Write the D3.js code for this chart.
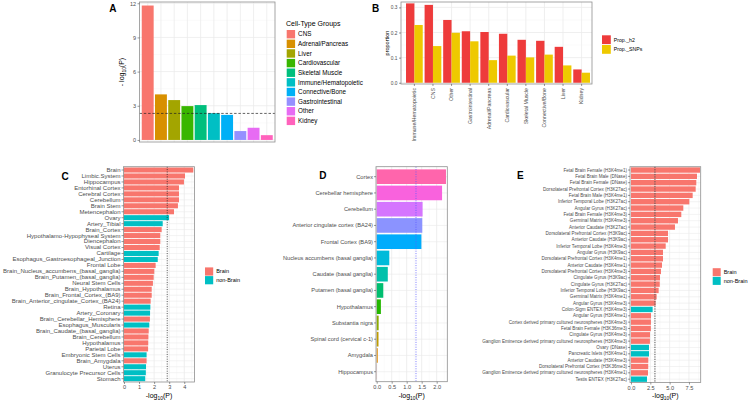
<!DOCTYPE html>
<html><head><meta charset="utf-8">
<script src="https://cdn.jsdelivr.net/npm/d3@7"></script>
<style>body{margin:0;background:#fff}svg{display:block;font-family:"Liberation Sans",Arial,sans-serif}</style>
</head><body><svg id="c" width="750" height="403"></svg>
<script>
// ---------- DATA ----------
const groupsA = ["CNS","Adrenal/Pancreas","Liver","Cardiovascular","Skeletal Muscle","Immune/Hematopoietic","Connective/Bone","Gastrointestinal","Other","Kidney"];
const valuesA = [11.8, 4.0, 3.5, 2.97, 3.06, 2.35, 2.2, 0.78, 1.07, 0.42];
const colorsA = ["#F8766D","#D89000","#A3A500","#39B600","#00BF7D","#00BFC4","#00B0F6","#9590FF","#E76BF3","#FF62BC"];
const ticksA = [0,3,6,9,12];
const thresholdA = 2.33;

const groupsB = ["Immune/Hematopoietic","CNS","Other","Gastrointestinal","Adrenal/Pancreas","Cardiovascular","Skeletal Muscle","Connective/Bone","Liver","Kidney"];
const seriesB = ["Prop._h2","Prop._SNPs"];
const propH2 = [0.316,0.310,0.250,0.205,0.202,0.195,0.171,0.167,0.143,0.053];
const propSNPs = [0.230,0.146,0.199,0.165,0.090,0.108,0.101,0.112,0.069,0.040];
const colorsB = ["#EE3B3B","#EEC900"];
const ticksB = [0,0.1,0.2,0.3];

const tissuesC = ["Brain","Limbic.System","Hippocampus","Entorhinal Cortex","Cerebral Cortex","Cerebellum","Brain Stem","Metencephalon","Ovary","Artery_Tibial","Brain_Cortex","Hypothalamo-Hypophyseal System","Diencephalon","Visual Cortex","Cartilage","Esophagus_Gastroesophageal_Junction","Frontal Lobe","Brain_Nucleus_accumbens_(basal_ganglia)","Brain_Putamen_(basal_ganglia)","Neural Stem Cells","Brain_Hypothalamus","Brain_Frontal_Cortex_(BA9)","Brain_Anterior_cingulate_Cortex_(BA24)","Retina","Artery_Coronary","Brain_Cerebellar_Hemisphere","Esophagus_Muscularis","Brain_Caudate_(basal_ganglia)","Brain_Cerebellum","Hypothalamus","Parietal Lobe","Embryonic Stem Cells","Brain_Amygdala","Uterus","Granulocyte Precursor Cells","Stomach"];
const valuesC = [4.6,4.05,3.98,3.65,3.65,3.65,3.58,3.32,2.99,2.57,2.50,2.41,2.41,2.37,2.30,2.24,2.10,2.01,1.97,1.92,1.84,1.84,1.77,1.75,1.73,1.72,1.68,1.64,1.62,1.61,1.60,1.50,1.50,1.46,1.45,1.41];
const typeC = ["Brain","Brain","Brain","Brain","Brain","Brain","Brain","Brain","non-Brain","non-Brain","Brain","Brain","Brain","Brain","non-Brain","non-Brain","Brain","Brain","Brain","Brain","Brain","Brain","Brain","non-Brain","non-Brain","Brain","non-Brain","Brain","Brain","Brain","Brain","non-Brain","Brain","non-Brain","non-Brain","non-Brain"];
const ticksC = [0,1,2,3,4];
const thresholdC = 2.87;

const tissuesD = ["Cortex","Cerebellar hemisphere","Cerebellum","Anterior cingulate cortex (BA24)","Frontal Cortex (BA9)","Nucleus accumbens (basal ganglia)","Caudate (basal ganglia)","Putamen (basal ganglia)","Hypothalamus","Substantia nigra","Spinal cord (cervical c-1)","Amygdala","Hippocampus"];
const valuesD = [2.31,2.18,1.53,1.52,1.49,0.42,0.37,0.22,0.14,0.065,0.06,0.035,0.005];
const colorsD = ["#FF65AC","#F962DD","#D575FE","#8B93FF","#00ACFC","#00BBDA","#00C1AB","#00BE70","#24B700","#8CAB00","#BE9C00","#E18A00","#F8766D"];
const ticksD = [0,0.5,1,1.5,2];
const thresholdD = 1.31;

const annotE = ["Fetal Brain Female (H3K4me1)","Fetal Brain Male (DNase)","Fetal Brain Female (DNase)","Dorsolateral Prefrontal Cortex (H3K27ac)","Fetal Brain Male (H3K4me1)","Inferior Temporal Lobe (H3K27ac)","Angular Gyrus (H3K27ac)","Fetal Brain Female (H3K4me3)","Germinal Matrix (H3K4me3)","Anterior Caudate (H3K27ac)","Dorsolateral Prefrontal Cortex (H3K9ac)","Anterior Caudate (H3K9ac)","Inferior Temporal Lobe (H3K4me3)","Angular Gyrus (H3K9ac)","Dorsolateral Prefrontal Cortex (H3K4me1)","Anterior Caudate (H3K4me1)","Dorsolateral Prefrontal Cortex (H3K4me3)","Cingulate Gyrus (H3K9ac)","Cingulate Gyrus (H3K27ac)","Inferior Temporal Lobe (H3K9ac)","Germinal Matrix (H3K4me1)","Angular Gyrus (H3K4me3)","Colon-Sigm ENTEX (H3K4me3)","Angular Gyrus (H3K4me1)","Cortex derived primary cultured neurospheres (H3K4me3)","Fetal Brain Female (H3K36me3)","Cingulate Gyrus (H3K4me3)","Ganglion Eminence derived primary cultured neurospheres (H3K4me3)","Ovary (DNase)","Pancreatic Islets (H3K4me1)","Anterior Caudate (H3K4me3)","Dorsolateral Prefrontal Cortex (H3K36me3)","Ganglion Eminence derived primary cultured neurospheres (H3K4me1)","Testis ENTEX (H3K27ac)"];
const valuesE = [8.93,8.54,8.45,8.37,7.98,7.55,6.77,6.51,6.08,5.69,4.79,4.79,4.49,4.14,4.14,4.01,3.88,3.75,3.72,3.58,3.32,3.19,2.80,2.59,2.58,2.57,2.46,2.45,2.33,2.33,2.24,2.23,2.20,2.07];
const typeE = ["Brain","Brain","Brain","Brain","Brain","Brain","Brain","Brain","Brain","Brain","Brain","Brain","Brain","Brain","Brain","Brain","Brain","Brain","Brain","Brain","Brain","Brain","non-Brain","Brain","Brain","Brain","Brain","Brain","non-Brain","non-Brain","Brain","Brain","Brain","non-Brain"];
const ticksE = [0,2.5,5,7.5];
const thresholdE = 3.1;

const typeColors = {"Brain":"#F8766D","non-Brain":"#00BFC4"};

// ---------- DRAW ----------
const FONT = '"Liberation Sans",Arial,sans-serif';
const svg = d3.select("#c");
const GRID = "#EBEBEB", MINOR = "#F4F4F4", BORDER = "#8f8f8f";

function styleAxis(g, fs){
  g.select(".domain").remove();
  g.selectAll("line").attr("stroke","#333").attr("stroke-width",0.5);
  g.selectAll("text").attr("fill","#4D4D4D").attr("font-size",fs).attr("font-family",FONT);
}
function panelLetter(t,x,y){
  svg.append("text").attr("x",x).attr("y",y).attr("font-size",10).attr("font-weight","bold").attr("font-family",FONT).attr("fill","#000").text(t);
}
function logLabel(x,y,fs,rot,prefix){
  const t = svg.append("text").attr("font-family",FONT).attr("font-size",fs).attr("fill","#000").attr("text-anchor","middle")
    .attr("transform",`translate(${x},${y})`+(rot?" rotate(-90)":""));
  t.append("tspan").text(prefix+"log");
  t.append("tspan").attr("font-size",fs*0.7).attr("dy",fs*0.3).text("10");
  t.append("tspan").attr("dy",-fs*0.3).text("(P)");
}
function legend(items, colors, x, y, step, ks, fs){
  items.forEach((d,i)=>{
    svg.append("rect").attr("x",x).attr("y",y+i*step-ks/2).attr("width",ks).attr("height",ks).attr("fill",colors[i]);
    svg.append("text").attr("x",x+ks+3).attr("y",y+i*step).attr("dy","0.35em").attr("font-size",fs).attr("font-family",FONT).attr("fill","#000").text(d);
  });
}

// ----- Panel A -----
(function(){
  const x0=139.5,x1=275,y0=2,y1=142;
  const x = d3.scaleBand().domain(groupsA).range([x0,x1]).paddingInner(0.1).paddingOuter(0.17);
  const y = d3.scaleLinear().domain([-0.18,12.11]).range([y1,y0]);
  const g = svg.append("g");
  [1.5,4.5,7.5,10.5].forEach(v=>g.append("line").attr("x1",x0).attr("x2",x1).attr("y1",y(v)).attr("y2",y(v)).attr("stroke",MINOR).attr("stroke-width",0.5));
  ticksA.forEach(v=>g.append("line").attr("x1",x0).attr("x2",x1).attr("y1",y(v)).attr("y2",y(v)).attr("stroke",GRID).attr("stroke-width",0.8));
  groupsA.forEach(c=>g.append("line").attr("x1",x(c)+x.bandwidth()/2).attr("x2",x(c)+x.bandwidth()/2).attr("y1",y0).attr("y2",y1).attr("stroke",GRID).attr("stroke-width",0.8));
  g.selectAll("rect.bar").data(groupsA).join("rect").attr("class","bar")
    .attr("x",d=>x(d)).attr("width",x.bandwidth())
    .attr("y",(d,i)=>y(valuesA[i])).attr("height",(d,i)=>y(0)-y(valuesA[i]))
    .attr("fill",(d,i)=>colorsA[i]);
  g.append("line").attr("x1",x0).attr("x2",x1).attr("y1",y(thresholdA)).attr("y2",y(thresholdA)).attr("stroke","#222").attr("stroke-width",0.7).attr("stroke-dasharray","2.5,1.8");
  g.append("rect").attr("x",x0).attr("y",y0).attr("width",x1-x0).attr("height",y1-y0).attr("fill","none").attr("stroke",BORDER).attr("stroke-width",0.8);
  const ay = svg.append("g").attr("transform",`translate(${x0},0)`).call(d3.axisLeft(y).tickValues(ticksA).tickSize(2).tickPadding(1.5));
  styleAxis(ay,5.5);
  logLabel(123.5,72,7,true,"- ");
  panelLetter("A",109.3,12);
  svg.append("text").attr("x",286).attr("y",26).attr("font-size",7).attr("font-family",FONT).attr("fill","#000").text("Cell-Type Groups");
  legend(groupsA, colorsA, 286.7, 34.2, 9.63, 8.4, 6.3);
})();

// ----- Panel B -----
(function(){
  const x0=401,x1=592,y0=2,y1=84;
  const x = d3.scaleBand().domain(groupsB).range([404.9,591.1]).paddingInner(0.1).paddingOuter(0.06);
  const xs = d3.scaleBand().domain(seriesB).range([0,x.bandwidth()]);
  const y = d3.scaleLinear().domain([-0.005,0.3215]).range([y1,y0]);
  const g = svg.append("g");
  [0.05,0.15,0.25].forEach(v=>g.append("line").attr("x1",x0).attr("x2",x1).attr("y1",y(v)).attr("y2",y(v)).attr("stroke",MINOR).attr("stroke-width",0.5));
  ticksB.forEach(v=>g.append("line").attr("x1",x0).attr("x2",x1).attr("y1",y(v)).attr("y2",y(v)).attr("stroke",GRID).attr("stroke-width",0.8));
  groupsB.forEach(c=>g.append("line").attr("x1",x(c)+x.bandwidth()/2).attr("x2",x(c)+x.bandwidth()/2).attr("y1",y0).attr("y2",y1).attr("stroke",GRID).attr("stroke-width",0.8));
  const vals = [propH2, propSNPs];
  seriesB.forEach((s,si)=>{
    g.selectAll("rect.b"+si).data(groupsB).join("rect").attr("class","b"+si)
      .attr("x",d=>x(d)+xs(s)).attr("width",xs.bandwidth())
      .attr("y",(d,i)=>y(vals[si][i])).attr("height",(d,i)=>y(0)-y(vals[si][i]))
      .attr("fill",colorsB[si]);
  });
  g.append("rect").attr("x",x0).attr("y",y0).attr("width",x1-x0).attr("height",y1-y0).attr("fill","none").attr("stroke",BORDER).attr("stroke-width",0.8);
  const ay = svg.append("g").attr("transform",`translate(${x0},0)`).call(d3.axisLeft(y).tickValues(ticksB).tickFormat(d3.format(".1f")).tickSize(2).tickPadding(1.5));
  styleAxis(ay,4.8);
  const ax = svg.append("g").attr("transform",`translate(0,${y1})`).call(d3.axisBottom(x).tickSize(2));
  styleAxis(ax,5.2);
  ax.selectAll("text").attr("transform","rotate(-90)").attr("text-anchor","end").attr("x",-4).attr("y",0).attr("dy","0.35em");
  svg.append("text").attr("transform","translate(388.5,43) rotate(-90)").attr("text-anchor","middle").attr("font-size",5.5).attr("font-family",FONT).attr("fill","#000").text("proportion");
  panelLetter("B",372,12);
  legend(seriesB, colorsB, 602, 39.7, 9.7, 8.8, 5.2);
})();

// ----- Horizontal bar panels -----
function hbar(o){
  const y = d3.scaleBand().domain(o.cats).range([o.y0,o.y1]).paddingInner(o.pi).paddingOuter(o.po);
  const x = d3.scaleLinear().domain(o.xd).range([o.x0,o.x1]);
  const g = svg.append("g");
  o.minor.forEach(v=>g.append("line").attr("x1",x(v)).attr("x2",x(v)).attr("y1",o.y0).attr("y2",o.y1).attr("stroke",MINOR).attr("stroke-width",0.5));
  o.ticks.forEach(v=>g.append("line").attr("x1",x(v)).attr("x2",x(v)).attr("y1",o.y0).attr("y2",o.y1).attr("stroke",GRID).attr("stroke-width",0.8));
  o.cats.forEach(c=>g.append("line").attr("x1",o.x0).attr("x2",o.x1).attr("y1",y(c)+y.bandwidth()/2).attr("y2",y(c)+y.bandwidth()/2).attr("stroke",GRID).attr("stroke-width",0.6));
  g.selectAll("rect.bar").data(o.cats).join("rect").attr("class","bar")
    .attr("x",x(0)).attr("y",d=>y(d)).attr("height",y.bandwidth())
    .attr("width",(d,i)=>Math.max(0,x(o.vals[i])-x(0)))
    .attr("fill",(d,i)=>o.colors[i]);
  g.append("line").attr("x1",x(o.thr)).attr("x2",x(o.thr)).attr("y1",o.y0).attr("y2",o.y1)
    .attr("stroke",o.thrColor).attr("stroke-width",o.thrW).attr("stroke-dasharray",o.thrDash);
  g.append("rect").attr("x",o.x0).attr("y",o.y0).attr("width",o.x1-o.x0).attr("height",o.y1-o.y0).attr("fill","none").attr("stroke",BORDER).attr("stroke-width",0.8);
  const ay = svg.append("g").attr("transform",`translate(${o.x0},0)`).call(d3.axisLeft(y).tickSize(2).tickPadding(1));
  styleAxis(ay,o.fs);
  const ax = svg.append("g").attr("transform",`translate(0,${o.y1})`).call(d3.axisBottom(x).tickValues(o.ticks).tickFormat(o.fmt).tickSize(2).tickPadding(1.5));
  styleAxis(ax,5.6);
  logLabel((o.x0+o.x1)/2, 398, 7, false, "-");
}

hbar({cats:tissuesC, vals:valuesC, colors:typeC.map(t=>typeColors[t]),
  x0:123.5,x1:194.5,y0:166.7,y1:382, xd:[-0.033,4.68], ticks:ticksC, minor:[0.5,1.5,2.5,3.5,4.5], fmt:d3.format("d"),
  pi:0.15, po:0.13, fs:6, thr:thresholdC, thrColor:"#222", thrW:0.8, thrDash:"1,1.4"});
panelLetter("C",61.5,179.5);
legend(["Brain","non-Brain"], [typeColors["Brain"],typeColors["non-Brain"]], 205, 271.5, 8.7, 8.2, 5.5);

hbar({cats:tissuesD, vals:valuesD, colors:colorsD,
  x0:376,x1:447.3,y0:166.7,y1:381.7, xd:[-0.023,2.354], ticks:ticksD, minor:[0.25,0.75,1.25,1.75,2.25], fmt:d3.format(".1f"),
  pi:0.1, po:0.165, fs:5.7, thr:thresholdD, thrColor:"#5a5aff", thrW:0.8, thrDash:"1,1.4"});
panelLetter("D",319.3,179);

hbar({cats:annotE, vals:valuesE, colors:typeE.map(t=>typeColors[t]),
  x0:630,x1:700.7,y0:166.7,y1:382.5, xd:[-0.129,9.02], ticks:ticksE, minor:[1.25,3.75,6.25,8.75], fmt:d3.format(".1f"),
  pi:0.15, po:0.1, fs:4.6, thr:thresholdE, thrColor:"#555", thrW:1, thrDash:"1.3,1.1"});
panelLetter("E",517,179);
legend(["Brain","non-Brain"], [typeColors["Brain"],typeColors["non-Brain"]], 712.7, 272.2, 8.7, 8.0, 5.5);
</script></body></html>
